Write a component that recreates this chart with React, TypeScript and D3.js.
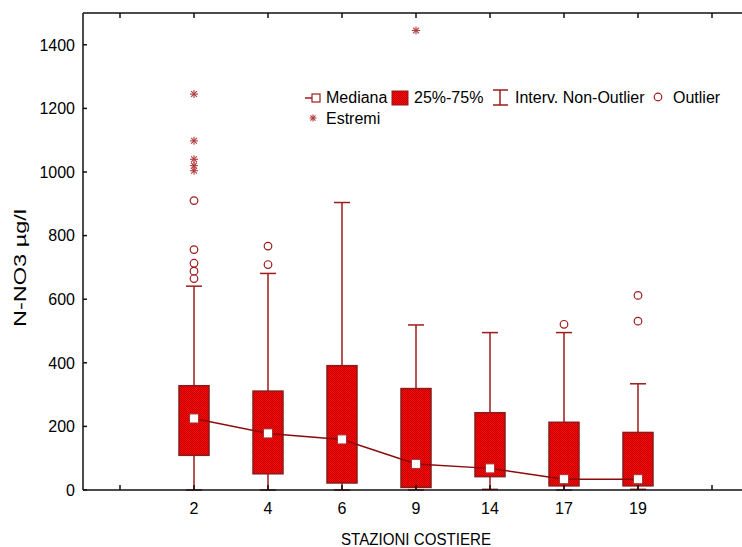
import React from "react";
import * as d3 from "d3";

const categories = ["2", "4", "6", "9", "14", "17", "19"];
const medians = [225, 178, 159, 82, 68, 34, 34];
const q1 = [109, 51, 22, 8, 42, 13, 13];
const q3 = [328, 311, 391, 319, 243, 213, 181];
const whiskerLow = [0, 0, 0, 0, 2, 0, 2];
const whiskerHigh = [641, 681, 904, 519, 495, 495, 334];
const outliers = [[910, 756, 713, 688, 665], [767, 709], [], [], [], [521], [612, 531]];
const extremes = [[1245, 1098, 1040, 1020, 1004], [], [], [1445], [], [], []];
const yTicks = [0, 200, 400, 600, 800, 1000, 1200, 1400];

const W = 742;
const H = 547;
const FONT = "'Liberation Sans', Arial, sans-serif";
const RED = "#9e1b1b";

function Asterisk({ x, y, s = 4 }: { x: number; y: number; s?: number }) {
  const d = s * 0.72;
  return (
    <g stroke="#b03a3a" strokeWidth={1.1}>
      <line x1={x} y1={y - s} x2={x} y2={y + s} />
      <line x1={x - d} y1={y - d} x2={x + d} y2={y + d} />
      <line x1={x - d} y1={y + d} x2={x + d} y2={y - d} />
      <line x1={x - s} y1={y} x2={x + s} y2={y} />
    </g>
  );
}

export default function App() {
  const slots = ["_a", ...categories, "_b"];
  const x = d3.scaleBand<string>().domain(slots).range([83, 749]).padding(0);
  const cx = (c: string) => (x(c) as number) + x.bandwidth() / 2;
  const y = d3.scaleLinear().domain([0, 1500]).range([490, 13]);
  const boxW = 30;
  const capW = 16;
  const line = d3
    .line<number>()
    .x((_, i) => cx(categories[i]))
    .y((d) => y(d));

  return (
    <svg
      width={W}
      height={H}
      style={{ position: "absolute", left: 0, top: 0, background: "#fff" }}
      fontFamily={FONT}
    >
      <defs>
        <pattern id="chk" width="2" height="2" patternUnits="userSpaceOnUse">
          <rect width="2" height="2" fill="#ff0a0a" />
          <rect width="1" height="1" fill="#c20000" />
          <rect x="1" y="1" width="1" height="1" fill="#c20000" />
        </pattern>
      </defs>

      {/* whiskers */}
      {categories.map((c, i) => (
        <g key={"w" + c} stroke={RED} strokeWidth={1.5}>
          <line x1={cx(c)} x2={cx(c)} y1={y(whiskerHigh[i])} y2={y(q3[i])} />
          <line x1={cx(c)} x2={cx(c)} y1={y(q1[i])} y2={y(whiskerLow[i])} />
          <line x1={cx(c) - capW / 2} x2={cx(c) + capW / 2} y1={y(whiskerHigh[i])} y2={y(whiskerHigh[i])} />
          <line x1={cx(c) - capW / 2} x2={cx(c) + capW / 2} y1={y(whiskerLow[i])} y2={y(whiskerLow[i])} />
        </g>
      ))}

      {/* boxes */}
      {categories.map((c, i) => (
        <rect
          key={"b" + c}
          x={cx(c) - boxW / 2}
          y={y(q3[i])}
          width={boxW}
          height={y(q1[i]) - y(q3[i])}
          fill="url(#chk)"
          stroke="#8b1a1a"
          strokeWidth={1.5}
        />
      ))}

      {/* median line */}
      <path d={line(medians) || ""} fill="none" stroke="#8b0a0a" strokeWidth={1.5} />
      {categories.map((c, i) => (
        <rect
          key={"m" + c}
          x={cx(c) - 4.5}
          y={y(medians[i]) - 4.5}
          width={9}
          height={9}
          fill="#fff"
          stroke="#a33"
          strokeWidth={1}
        />
      ))}

      {/* outliers */}
      {categories.map((c, i) =>
        outliers[i].map((v, j) => (
          <circle key={"o" + c + j} cx={cx(c)} cy={y(v)} r={3.8} fill="none" stroke={RED} strokeWidth={1.2} />
        ))
      )}
      {categories.map((c, i) =>
        extremes[i].map((v, j) => <Asterisk key={"e" + c + j} x={cx(c)} y={y(v)} />)
      )}

      {/* frame */}
      <g stroke="#111" strokeWidth={1.5} fill="none">
        <line x1={83} x2={760} y1={13} y2={13} />
        <line x1={83} x2={760} y1={490} y2={490} />
        <line x1={83} x2={83} y1={13} y2={490} />
      </g>
      {/* category ticks */}
      {slots.map((s) => (
        <g key={"t" + s} stroke="#111" strokeWidth={1.5}>
          <line x1={cx(s)} x2={cx(s)} y1={490} y2={485} />
          <line x1={cx(s)} x2={cx(s)} y1={13} y2={18} />
        </g>
      ))}
      {/* y ticks */}
      {yTicks.map((t) => (
        <g key={"y" + t}>
          <line x1={83} x2={87} y1={y(t)} y2={y(t)} stroke="#111" strokeWidth={1.5} />
          <text x={75} y={y(t)} dy="0.36em" textAnchor="end" fontSize={16} fill="#000">
            {t}
          </text>
        </g>
      ))}
      {categories.map((c) => (
        <text key={"xl" + c} x={cx(c)} y={514} textAnchor="middle" fontSize={16} fill="#000">
          {c}
        </text>
      ))}
      <text x={416} y={545} textAnchor="middle" fontSize={16} textLength={150} lengthAdjust="spacingAndGlyphs" fill="#000">
        STAZIONI COSTIERE
      </text>
      <text
        transform="translate(26,268) rotate(-90)"
        textAnchor="middle"
        fontSize={16}
        textLength={118}
        lengthAdjust="spacingAndGlyphs"
        fill="#000"
      >
        N-NO3 µg/l
      </text>

      {/* legend */}
      <g>
        <line x1={305} x2={312} y1={98} y2={98} stroke={RED} strokeWidth={1.5} />
        <rect x={312} y={94} width={8} height={8} fill="#fff" stroke={RED} strokeWidth={1.2} />
        <text x={326} y={103} fontSize={16} fill="#000">Mediana</text>
        <rect x={392} y={91} width={16} height={14} fill="url(#chk)" stroke="#8b1a1a" strokeWidth={1} />
        <text x={414} y={103} fontSize={16} fill="#000">25%-75%</text>
        <g stroke={RED} strokeWidth={1.5}>
          <line x1={500} x2={500} y1={90} y2={105} />
          <line x1={493} x2={508} y1={90} y2={90} />
          <line x1={493} x2={508} y1={105} y2={105} />
        </g>
        <text x={515} y={103} fontSize={16} fill="#000">Interv. Non-Outlier</text>
        <circle cx={658} cy={97} r={3.8} fill="none" stroke={RED} strokeWidth={1.2} />
        <text x={673} y={103} fontSize={16} fill="#000">Outlier</text>
        <Asterisk x={313} y={118} s={3.5} />
        <text x={326} y={124} fontSize={16} fill="#000">Estremi</text>
      </g>
    </svg>
  );
}
